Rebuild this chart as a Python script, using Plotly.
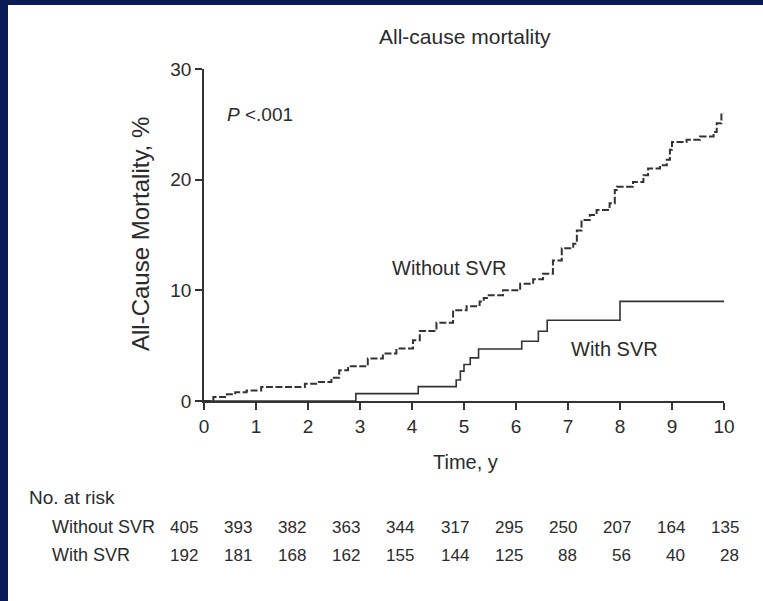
import plotly.graph_objects as go

# ---- data ----
t_without = [0, 0.18, 0.44, 0.6, 0.82, 1.1, 1.94, 2.19, 2.45, 2.6, 2.77, 3.15, 3.44, 3.7, 4.02, 4.15,
             4.47, 4.79, 5.05, 5.3, 5.38, 5.44, 5.75, 6.08, 6.33, 6.52, 6.71, 6.88, 7.1, 7.17, 7.26,
             7.42, 7.55, 7.8, 7.9, 7.94, 8.25, 8.45, 8.54, 8.77, 8.9, 8.96, 9.0, 9.28, 9.54, 9.8,
             9.86, 9.95, 10.0]
m_without = [0, 0.36, 0.6, 0.8, 0.94, 1.27, 1.57, 1.72, 2.1, 2.78, 3.14, 3.84, 4.29, 4.74, 5.49, 6.33,
             7.06, 8.2, 8.57, 9.0, 9.3, 9.56, 10.0, 10.6, 11.0, 11.5, 12.7, 13.8, 14.2, 15.4, 16.35,
             16.8, 17.26, 17.86, 19.07, 19.37, 19.8, 20.4, 21.0, 21.3, 21.8, 22.7, 23.4, 23.6, 23.9, 24.3,
             25.1, 26.0, 26.0]
t_with = [0, 2.92, 4.12, 4.85, 4.93, 5.0, 5.12, 5.28, 6.11, 6.43, 6.6, 8.0, 10.0]
m_with = [0, 0.67, 1.3, 1.9, 2.7, 3.3, 3.9, 4.7, 5.4, 6.3, 7.3, 9.0, 9.0]

x_ticks = list(range(0, 11))
y_ticks = [0, 10, 20, 30]
risk_without = [405, 393, 382, 363, 344, 317, 295, 250, 207, 164, 135]
risk_with = [192, 181, 168, 162, 155, 144, 125, 88, 56, 40, 28]

# ---- layout geometry (pixels) ----
W, H = 763, 601
L, R, T, B = 204, 39, 69, 200
PW, PH = W - L - R, H - T - B

def px(x):
    return (x - L) / PW

def py(y):
    return (H - B - y) / PH

FONT = "Liberation Sans, Arial, sans-serif"
TXT = "#2b2b2b"
LINE = "#333333"
NAVY = "#0a1c58"

fig = go.Figure()
fig.add_trace(go.Scatter(x=t_without, y=m_without, mode="lines", line_shape="hv",
                         line=dict(color=LINE, width=2, dash="7px,2.5px"), cliponaxis=False,
                         hoverinfo="skip", showlegend=False))
fig.add_trace(go.Scatter(x=t_with, y=m_with, mode="lines", line_shape="hv",
                         line=dict(color=LINE, width=1.6), cliponaxis=False,
                         hoverinfo="skip", showlegend=False))

ann = []
def add(text, x, y, size, xanchor="center", yanchor="middle", angle=0):
    ann.append(dict(text=text, x=px(x), y=py(y), xref="paper", yref="paper", showarrow=False,
                    xanchor=xanchor, yanchor=yanchor, textangle=angle,
                    font=dict(family=FONT, size=size, color=TXT)))

add("All-cause mortality", 465, 36, 21)
add("<i>P</i> <.001", 225, 115, 19, xanchor="left")
add("Without SVR", 390, 268, 20, xanchor="left")
add("With SVR", 569, 349, 20, xanchor="left")
add("Time, y", 465, 462, 20)
add("All-Cause Mortality, %", 140, 234, 24, angle=-90)
add("No. at risk", 27, 497, 19, xanchor="left")
add("Without SVR", 50, 527, 18, xanchor="left")
add("With SVR", 50, 555, 18, xanchor="left")
for i, (a, b) in enumerate(zip(risk_without, risk_with)):
    xr = 200 + 54.1 * i
    add(str(a), xr, 527, 17, xanchor="right")
    add(str(b), xr, 555, 17, xanchor="right")

shapes = [
    dict(type="rect", xref="paper", yref="paper", x0=px(-5), x1=px(8), y0=py(H + 5), y1=py(-5),
         fillcolor=NAVY, line=dict(width=0), layer="above"),
    dict(type="rect", xref="paper", yref="paper", x0=px(-5), x1=px(W + 5), y0=py(5), y1=py(-5),
         fillcolor=NAVY, line=dict(width=0), layer="above"),
]

axis_common = dict(showline=True, linecolor=LINE, linewidth=1.6, ticks="outside", ticklen=7,
                   tickwidth=1.6, tickcolor=LINE, showgrid=False, zeroline=False,
                   tickfont=dict(family=FONT, size=19, color=TXT))
fig.update_layout(
    width=W, height=H, margin=dict(l=L, r=R, t=T, b=B),
    paper_bgcolor="white", plot_bgcolor="white",
    xaxis=dict(range=[0, 10], tickvals=x_ticks, **axis_common),
    yaxis=dict(range=[0, 30], tickvals=y_ticks, **axis_common),
    annotations=ann, shapes=shapes,
)
fig.write_html("out.html")
